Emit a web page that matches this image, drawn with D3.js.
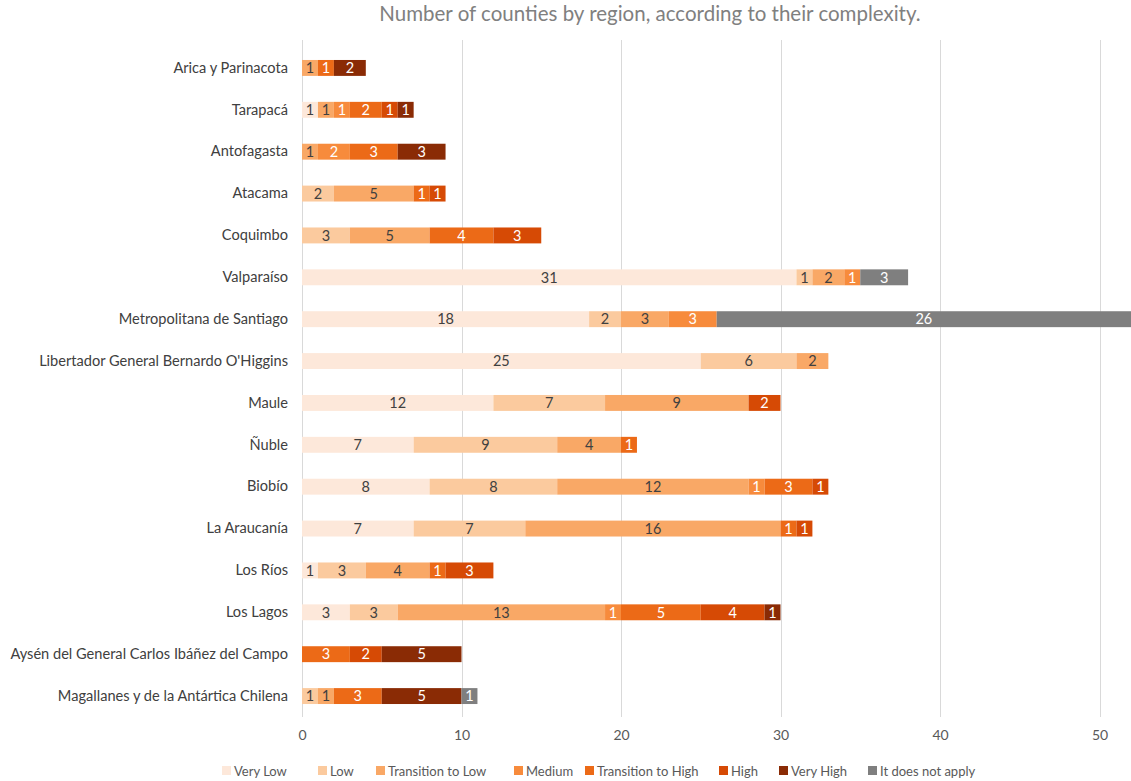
<!DOCTYPE html>
<html>
<head>
<meta charset="utf-8">
<script src="https://cdn.jsdelivr.net/npm/d3@7"></script>
<style>
  html, body { margin: 0; padding: 0; background: #fff; }
  svg { display: block; font-family: Lato, "Open Sans", sans-serif; }
</style>
</head>
<body>
<svg id="chart" width="1131" height="781"></svg>
<script>
// Regions of Chile, top to bottom
const regions = [
  "Arica y Parinacota",
  "Tarapacá",
  "Antofagasta",
  "Atacama",
  "Coquimbo",
  "Valparaíso",
  "Metropolitana de Santiago",
  "Libertador General Bernardo O'Higgins",
  "Maule",
  "Ñuble",
  "Biobío",
  "La Araucanía",
  "Los Ríos",
  "Los Lagos",
  "Aysén del General Carlos Ibáñez del Campo",
  "Magallanes y de la Antártica Chilena"
];

// Complexity levels (legend order)
const levels = ["Very Low", "Low", "Transition to Low", "Medium",
                "Transition to High", "High", "Very High", "It does not apply"];

// Number of counties per level, one value per region
const veryLow          = [0, 1, 0, 0, 0, 31, 18, 25, 12, 7, 8, 7, 1, 3, 0, 0];
const low              = [0, 0, 0, 2, 3, 1, 2, 6, 7, 9, 8, 7, 3, 3, 0, 1];
const transitionToLow  = [1, 1, 1, 5, 5, 2, 3, 2, 9, 4, 12, 16, 4, 13, 0, 1];
const medium           = [0, 1, 2, 0, 0, 1, 3, 0, 0, 0, 1, 0, 0, 1, 0, 0];
const transitionToHigh = [1, 2, 3, 1, 4, 0, 0, 0, 0, 1, 3, 1, 1, 5, 3, 3];
const high             = [0, 1, 0, 1, 3, 0, 0, 0, 2, 0, 1, 1, 3, 4, 2, 0];
const veryHigh         = [2, 1, 3, 0, 0, 0, 0, 0, 0, 0, 0, 0, 0, 1, 5, 5];
const doesNotApply     = [0, 0, 0, 0, 0, 3, 26, 0, 0, 0, 0, 0, 0, 0, 0, 1];

const xTicks = [0, 10, 20, 30, 40, 50];

const seriesValues = [veryLow, low, transitionToLow, medium,
                      transitionToHigh, high, veryHigh, doesNotApply];

const colors = ["#fde8da", "#fbca9e", "#f9a866", "#f78b3c",
                "#ec6a17", "#d64a05", "#8a2b05", "#7f7f7f"];
const labelColors = ["#404040", "#404040", "#404040", "#ffffff",
                     "#ffffff", "#ffffff", "#ffffff", "#ffffff"];

// Build a row table for d3.stack
const table = regions.map((r, i) => {
  const row = { region: r };
  levels.forEach((l, k) => { row[l] = seriesValues[k][i]; });
  return row;
});
const stacked = d3.stack().keys(levels)(table);

const svg = d3.select("#chart");
const width = 1131;

const x = d3.scaleLinear().domain([0, 52]).range([302, 1131.4]);
const y = d3.scaleBand().domain(regions).range([47, 717]).paddingInner(0.62).paddingOuter(0.31);

// Title
svg.append("text")
  .attr("x", 650).attr("y", 21)
  .attr("text-anchor", "middle")
  .attr("fill", "#808080")
  .style("font-size", "20.5px")
  .text("Number of counties by region, according to their complexity.");

// Vertical gridlines
svg.append("g")
  .selectAll("line")
  .data(xTicks)
  .join("line")
  .attr("x1", d => Math.round(x(d)) + 0.5)
  .attr("x2", d => Math.round(x(d)) + 0.5)
  .attr("y1", 40).attr("y2", 717)
  .attr("stroke", "#d9d9d9")
  .attr("stroke-width", 1);

// X axis tick labels
const xAxis = d3.axisBottom(x).tickValues(xTicks).tickSize(0).tickPadding(0);
svg.append("g")
  .attr("transform", "translate(0,730)")
  .call(xAxis)
  .call(g => g.select(".domain").remove())
  .call(g => g.selectAll("text")
    .attr("fill", "#595959")
    .style("font-size", "14px")
    .style("font-family", "Lato, sans-serif"));

// Region labels
const yAxis = d3.axisLeft(y).tickSize(0).tickPadding(0);
svg.append("g")
  .attr("transform", "translate(288,0)")
  .call(yAxis)
  .call(g => g.select(".domain").remove())
  .call(g => g.selectAll("text")
    .attr("fill", "#404040")
    .style("font-size", "14.6px")
    .style("font-family", "Lato, sans-serif"));

// Stacked bars
const layers = svg.append("g")
  .selectAll("g")
  .data(stacked)
  .join("g")
  .attr("fill", (d, i) => colors[i]);

layers.selectAll("rect")
  .data(d => d.filter(s => s[1] > s[0]))
  .join("rect")
  .attr("x", s => x(s[0]))
  .attr("y", s => y(s.data.region))
  .attr("width", s => x(s[1]) - x(s[0]))
  .attr("height", y.bandwidth());

// Segment value labels
stacked.forEach((layer, i) => {
  svg.append("g")
    .selectAll("text")
    .data(layer.filter(s => s[1] > s[0]))
    .join("text")
    .attr("x", s => (x(s[0]) + Math.min(x(s[1]), width)) / 2)
    .attr("y", s => y(s.data.region) + y.bandwidth() / 2)
    .attr("dy", "0.36em")
    .attr("text-anchor", "middle")
    .attr("fill", labelColors[i])
    .style("font-size", "14.5px")
    .text(s => s[1] - s[0]);
});

// Legend
const legendX = [222, 318, 376, 514, 585, 719, 779, 868];
const legend = svg.append("g")
  .selectAll("g")
  .data(levels)
  .join("g")
  .attr("transform", (d, i) => `translate(${legendX[i]},771)`);
legend.append("rect")
  .attr("x", 0).attr("y", -5)
  .attr("width", 9).attr("height", 9)
  .attr("fill", (d, i) => colors[i]);
legend.append("text")
  .attr("x", 12).attr("y", 0)
  .attr("dy", "0.35em")
  .attr("fill", "#595959")
  .style("font-size", "13px")
  .text(d => d);
</script>
</body>
</html>
